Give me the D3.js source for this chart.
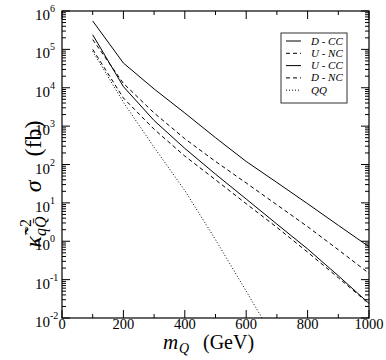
<!DOCTYPE html>
<html><head><meta charset="utf-8">
<script src="https://cdn.jsdelivr.net/npm/d3@7"></script>
<style>body{margin:0;background:#fff}svg{display:block}text{font-family:"Liberation Serif","Times New Roman",serif;fill:#000}</style>
</head><body><svg id="c" width="386" height="360"></svg>
<script>
const masses = [100,200,300,400,500,600,700,800,900,1000];
const dCC = [5.5e5,4.4e4,9.3e3,2.2e3,500,120,34,9.5,2.6,0.72];
const uNC = [1.8e5,1.3e4,2.2e3,470,120,33,8.9,2.4,0.6,0.146];
const uCC = [2.4e5,1.07e4,1.4e3,263,56,12.6,2.8,0.63,0.126,0.024];
const dNC = [1.0e5,5.4e3,830,166,40,9.5,2.3,0.52,0.112,0.0235];
const qqMasses = [100,200,300,400,500,600,700];
const qq = [8.9e4,4.2e3,280,21,1.1,0.05,0.0022];
const seriesNames = ["D - CC","U - NC","U - CC","D - NC","QQ"];
const xTicks = [0,200,400,600,800,1000];
const yExps = [-2,-1,0,1,2,3,4,5,6];

const svg = d3.select("#c");
const L=62,R=369,T=11,B=318;
const x = d3.scaleLinear().domain([0,1000]).range([L,R]);
const y = d3.scaleLog().domain([1e-2,1e6]).range([B,T]);

svg.append("defs").append("clipPath").attr("id","clip").append("rect")
  .attr("x",L).attr("y",T).attr("width",R-L).attr("height",B-T);

const styles = [
  {dash:null},{dash:"4,3"},{dash:null},{dash:"4,3"},{dash:"1,2"}
];
const series = [
  {m:masses,v:dCC},{m:masses,v:uNC},{m:masses,v:uCC},{m:masses,v:dNC},{m:qqMasses,v:qq}
];
const line = d3.line().x(d=>x(d[0])).y(d=>y(d[1]));
const g = svg.append("g").attr("clip-path","url(#clip)");
series.forEach((s,i)=>{
  g.append("path").datum(s.m.map((m,j)=>[m,s.v[j]]))
   .attr("d",line).attr("fill","none").attr("stroke","#000")
   .attr("stroke-width",1).attr("stroke-dasharray",styles[i].dash);
});

// frame
svg.append("rect").attr("x",L).attr("y",T).attr("width",R-L).attr("height",B-T)
  .attr("fill","none").attr("stroke","#000").attr("stroke-width",1.2);

// ticks (inward on all four sides)
const xMajor = d3.range(0,1001,200), xMinor = d3.range(100,1000,200);
const ax = svg.append("g").attr("stroke","#000").attr("stroke-width",1);
xMajor.forEach(v=>{
  ax.append("line").attr("x1",x(v)).attr("x2",x(v)).attr("y1",B).attr("y2",B-8);
  ax.append("line").attr("x1",x(v)).attr("x2",x(v)).attr("y1",T).attr("y2",T+8);
});
xMinor.forEach(v=>{
  ax.append("line").attr("x1",x(v)).attr("x2",x(v)).attr("y1",B).attr("y2",B-4);
  ax.append("line").attr("x1",x(v)).attr("x2",x(v)).attr("y1",T).attr("y2",T+4);
});
yExps.forEach(e=>{
  const v=Math.pow(10,e);
  ax.append("line").attr("x1",L).attr("x2",L+8).attr("y1",y(v)).attr("y2",y(v));
  ax.append("line").attr("x1",R).attr("x2",R-8).attr("y1",y(v)).attr("y2",y(v));
  if(e<6){
    for(let k=2;k<10;k++){
      const yy=y(k*v);
      ax.append("line").attr("x1",L).attr("x2",L+4).attr("y1",yy).attr("y2",yy);
      ax.append("line").attr("x1",R).attr("x2",R-4).attr("y1",yy).attr("y2",yy);
    }
  }
});

// x tick labels
svg.append("g").selectAll("text").data(xTicks).join("text")
  .attr("x",d=>x(d)).attr("y",B+11).attr("text-anchor","middle")
  .attr("font-size",14.5).text(d=>d);

// y tick labels
yExps.forEach(e=>{
  svg.append("text").attr("x",50).attr("y",y(Math.pow(10,e))+9)
    .attr("text-anchor","end").attr("font-size",15).text("10");
  svg.append("text").attr("x",50).attr("y",y(Math.pow(10,e))+1)
    .attr("font-size",10).text(e<0?"-"+(-e):String(e));
});

// x title
const xt = svg.append("g");
xt.append("text").attr("x",163).attr("y",349).attr("font-size",21).attr("font-style","italic").text("m");
xt.append("text").attr("x",179).attr("y",353).attr("font-size",14).attr("font-style","italic").text("Q");
xt.append("text").attr("x",203).attr("y",349).attr("font-size",20).text("(GeV)");

// y title
const yt = svg.append("text").attr("transform","translate(41,184) rotate(-90)")
  .attr("text-anchor","middle").attr("font-size",24);
yt.append("tspan").attr("font-style","italic").text("κ\u0303");
yt.append("tspan").attr("font-size",16).attr("dy",-10).text("−2");
yt.append("tspan").attr("font-size",16).attr("font-style","italic").attr("dx",-17).attr("dy",15).text("qQ\u0304");
yt.append("tspan").attr("dy",-5).attr("font-style","italic").text("\u2003σ");
yt.append("tspan").text("\u2003(fb)");

// legend
const lg = svg.append("g");
lg.append("rect").attr("x",281).attr("y",33).attr("width",66).attr("height",70)
  .attr("fill","#fff").attr("stroke","#333").attr("stroke-width",1);
seriesNames.forEach((n,i)=>{
  const yy = 41 + i*12.3;
  lg.append("line").attr("x1",286).attr("x2",301).attr("y1",yy).attr("y2",yy)
    .attr("stroke","#000").attr("stroke-width",1).attr("stroke-dasharray",styles[i].dash);
  lg.append("text").attr("x",311).attr("y",yy+3.5).attr("font-size",11)
    .attr("font-style","italic").text(n);
});
</script></body></html>
